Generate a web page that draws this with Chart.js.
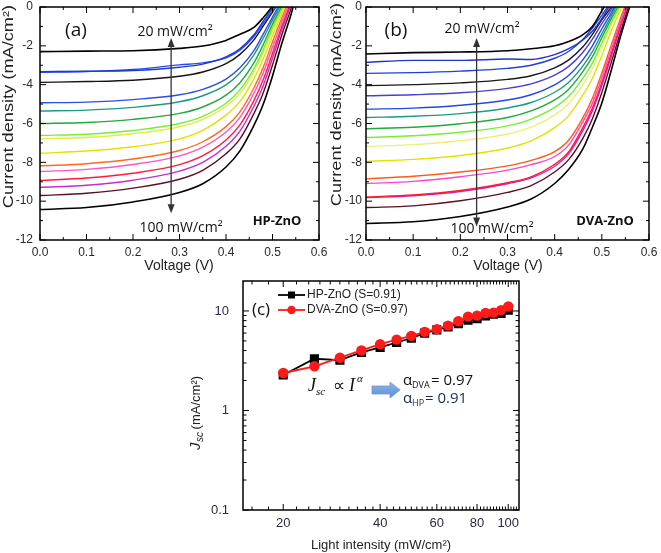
<!DOCTYPE html>
<html><head><meta charset="utf-8">
<script src="https://cdn.jsdelivr.net/npm/chart.js@4.4.0/dist/chart.umd.min.js"></script>
<style>
html,body{margin:0;padding:0;background:#fff;}
#wrap{position:relative;width:661px;height:553px;overflow:hidden;background:#fff;}
canvas{position:absolute;}
</style></head><body>
<div id="wrap">
<canvas id="ca" width="330" height="280" style="left:0;top:0;width:330px;height:280px"></canvas>
<canvas id="cb" width="331" height="280" style="left:330px;top:0;width:331px;height:280px"></canvas>
<canvas id="cc" width="350" height="283" style="left:180px;top:270px;width:350px;height:283px"></canvas>
</div>
<script>
// ---------- data ----------
const voltage = [0, 0.1, 0.2, 0.3, 0.35, 0.4, 0.43, 0.46, 0.48, 0.5, 0.52, 0.54, 0.56, 0.58];

const hpCurves = [
  [-2.30,-2.27,-2.25,-2.13,-2.01,-1.72,-1.40,-1.05,-0.55,0.05,0.8,1.6,2.4,3.2],
  [-3.33,-3.31,-3.27,-3.10,-2.94,-2.57,-2.15,-1.43,-0.73,-0.07,0.6,1.4,2.2,3.0],
  [-3.36,-3.32,-3.22,-2.98,-2.88,-2.62,-2.22,-1.52,-0.85,-0.20,0.5,1.3,2.1,2.9],
  [-3.88,-3.84,-3.77,-3.57,-3.35,-2.92,-2.44,-1.69,-0.98,-0.26,0.47,1.3,2.1,2.9],
  [-4.93,-4.90,-4.77,-4.52,-4.24,-3.71,-3.13,-2.25,-1.40,-0.52,0.32,1.2,2.2,3.1],
  [-5.36,-5.31,-5.17,-4.88,-4.57,-4.01,-3.40,-2.47,-1.61,-0.68,0.19,1.1,2.2,3.1],
  [-6.00,-5.95,-5.79,-5.48,-5.15,-4.54,-3.90,-2.88,-1.94,-0.88,0.05,1.1,2.2,3.1],
  [-6.62,-6.55,-6.36,-6.00,-5.63,-4.96,-4.27,-3.18,-2.20,-1.06,-0.10,1.0,2.2,3.1],
  [-6.79,-6.72,-6.53,-6.17,-5.79,-5.11,-4.45,-3.34,-2.36,-1.22,-0.20,0.9,2.1,3.0],
  [-7.53,-7.42,-7.20,-6.79,-6.35,-5.57,-4.86,-3.70,-2.68,-1.48,-0.37,0.83,2.2,3.1],
  [-8.18,-8.07,-7.83,-7.39,-6.94,-6.16,-5.40,-4.17,-3.11,-1.80,-0.57,0.65,2.1,3.0],
  [-8.47,-8.36,-8.11,-7.67,-7.22,-6.44,-5.68,-4.45,-3.39,-2.07,-0.77,0.47,2.0,3.0],
  [-8.93,-8.81,-8.56,-8.12,-7.66,-6.85,-6.07,-4.82,-3.75,-2.39,-1.00,0.29,1.9,2.9],
  [-9.29,-9.18,-8.92,-8.45,-8.00,-7.17,-6.39,-5.11,-4.05,-2.64,-1.17,0.15,1.8,2.9],
  [-9.71,-9.59,-9.33,-8.87,-8.41,-7.56,-6.79,-5.49,-4.43,-2.99,-1.44,-0.07,1.6,2.8],
  [-10.43,-10.33,-10.04,-9.55,-9.10,-8.24,-7.41,-6.10,-5.01,-3.55,-1.88,-0.37,1.36,2.7]
];
const hpColors = ['#000000','#1a3ad8','#2a4ae6','#151515','#2b4fe0','#1f9a80','#1faa3a','#77ee33',
  '#e4ee40','#e6e000','#ff6a20','#ff55c8','#ff1a40','#c030d0','#5a1020','#000000'];

const dvaCurves = [
  [-2.42,-2.35,-2.32,-2.25,-2.15,-2.00,-1.78,-1.42,-1.00,-0.20,0.6,1.4,2.2,3.0],
  [-2.85,-2.75,-2.75,-2.68,-2.70,-2.45,-2.15,-1.70,-1.25,-0.60,0.2,1.0,1.8,2.6],
  [-3.42,-3.38,-3.30,-3.16,-3.00,-2.64,-2.28,-1.66,-1.08,-0.43,0.3,1.1,1.9,2.7],
  [-4.05,-4.00,-3.91,-3.73,-3.54,-3.13,-2.72,-2.05,-1.41,-0.66,0.0,0.9,1.8,2.6],
  [-4.57,-4.52,-4.42,-4.19,-3.96,-3.51,-3.06,-2.33,-1.66,-0.86,-0.14,0.75,1.7,2.6],
  [-5.26,-5.21,-5.06,-4.79,-4.52,-4.01,-3.52,-2.71,-2.00,-1.12,-0.31,0.6,1.6,2.5],
  [-5.69,-5.63,-5.49,-5.20,-4.92,-4.39,-3.87,-3.03,-2.30,-1.37,-0.46,0.5,1.5,2.5],
  [-6.27,-6.19,-6.01,-5.69,-5.35,-4.78,-4.23,-3.32,-2.56,-1.58,-0.61,0.3,1.5,2.5],
  [-6.72,-6.63,-6.45,-6.12,-5.77,-5.17,-4.60,-3.66,-2.89,-1.85,-0.80,0.16,1.4,2.5],
  [-7.18,-7.09,-6.89,-6.54,-6.19,-5.56,-4.97,-3.98,-3.18,-2.10,-0.95,0.06,1.3,2.4],
  [-7.95,-7.85,-7.65,-7.26,-6.89,-6.21,-5.58,-4.53,-3.67,-2.51,-1.24,-0.11,1.1,2.3],
  [-8.85,-8.72,-8.50,-8.18,-7.90,-7.45,-6.85,-5.70,-4.70,-3.40,-1.95,-0.55,0.8,2.1],
  [-9.09,-8.98,-8.74,-8.40,-8.12,-7.70,-7.10,-5.90,-4.95,-3.65,-2.20,-0.75,0.65,2.0],
  [-9.78,-9.68,-9.45,-9.05,-8.75,-8.10,-7.45,-6.20,-5.20,-3.90,-2.40,-0.90,0.5,2.0],
  [-9.82,-9.72,-9.50,-9.10,-8.80,-8.20,-7.55,-6.35,-5.35,-4.05,-2.55,-1.00,0.4,1.9],
  [-10.33,-10.24,-9.98,-9.55,-9.20,-8.50,-7.85,-6.75,-5.75,-4.40,-2.85,-1.25,0.3,1.8],
  [-11.15,-11.06,-10.79,-10.30,-9.89,-9.09,-8.36,-7.30,-6.19,-4.94,-3.26,-1.48,0.09,1.6]
];
const dvaColors = ['#000000','#2233c8','#2240dd','#1a1a1a','#4a40d0','#2448e0','#1f9a80','#1faa3a',
  '#77ee33','#eef070','#e6e000','#ff5a1a','#ff44cc','#ff1a2a','#cc22cc','#5a1020','#000000'];

const intensity = [20,25,30,35,40,45,50,55,60,65,70,75,80,85,90,95,100];
const hpJsc  = [2.27,3.31,3.21,3.83,4.30,4.82,5.34,5.98,6.45,6.90,7.47,8.06,8.37,8.90,9.26,9.47,10.2];
const dvaJsc = [2.38,2.78,3.39,4.01,4.64,5.15,5.62,6.17,6.56,7.13,7.88,8.77,8.97,9.55,9.63,10.2,11.1];

const voltTicks = [0,0.1,0.2,0.3,0.4,0.5,0.6];
const voltMinor = [0.05,0.15,0.25,0.35,0.45,0.55];
const jTicks = [-12,-10,-8,-6,-4,-2,0];
const jMinor = [-11,-9,-7,-5,-3,-1];
const jscTicks = [0.1,1,10];
const jscMinor = [0.2,0.3,0.4,0.5,0.6,0.7,0.8,0.9,2,3,4,5,6,7,8,9];
const intensityTicks = [20,40,60,80,100];
const intensityMinor = [16,18,22,24,26,28,30,32,34,36,38,42,44,46,48,50,52,54,56,58,62,64,66,68,70,72,74,76,78,82,84,86,88,90,92,94,96,98,102,104,106];

// ---------- helpers ----------
const SANS = 'Liberation Sans';
const ANN = 'Open Sans';

function noPad(s) { s.paddingTop = 0; s.paddingBottom = 0; s.paddingLeft = 0; s.paddingRight = 0; }

function frameTicks(chart, xMaj, xMin, yMaj, yMin, maj, mn) {
  const {ctx, chartArea: a} = chart;
  const sx = chart.scales.x, sy = chart.scales.y;
  ctx.save();
  ctx.strokeStyle = '#000';
  ctx.lineWidth = 1;
  ctx.beginPath();
  const vx = (list, len) => list.forEach(v => {
    const p = sx.getPixelForValue(v);
    ctx.moveTo(p, a.bottom); ctx.lineTo(p, a.bottom - len);
    ctx.moveTo(p, a.top); ctx.lineTo(p, a.top + len);
  });
  const vy = (list, len) => list.forEach(v => {
    const p = sy.getPixelForValue(v);
    ctx.moveTo(a.left, p); ctx.lineTo(a.left + len, p);
    ctx.moveTo(a.right, p); ctx.lineTo(a.right - len, p);
  });
  vx(xMaj, maj); vx(xMin, mn); vy(yMaj, maj); vy(yMin, mn);
  ctx.stroke();
  ctx.lineWidth = 1.5;
  ctx.strokeRect(a.left, a.top, a.right - a.left, a.bottom - a.top);
  ctx.restore();
}

function yTitle(ctx, text, x, y, size, stretch) {
  ctx.save();
  ctx.translate(x, y);
  ctx.rotate(-Math.PI / 2);
  ctx.scale(stretch, 1);
  ctx.font = size + 'px "' + SANS + '"';
  ctx.fillStyle = '#222';
  ctx.textAlign = 'center';
  ctx.textBaseline = 'middle';
  ctx.fillText(text, 0, 0);
  ctx.restore();
}

function text(ctx, s, x, y, font, color, align) {
  ctx.save();
  ctx.font = font;
  ctx.fillStyle = color || '#111';
  ctx.textAlign = align || 'left';
  ctx.textBaseline = 'middle';
  ctx.fillText(s, x, y);
  ctx.restore();
}

function vArrow(ctx, x, y1, y2) {
  ctx.save();
  ctx.strokeStyle = '#333'; ctx.fillStyle = '#333'; ctx.lineWidth = 1.3;
  ctx.beginPath(); ctx.moveTo(x, y1 + 6); ctx.lineTo(x, y2 - 6); ctx.stroke();
  ctx.beginPath(); ctx.moveTo(x, y1); ctx.lineTo(x - 3.5, y1 + 9); ctx.lineTo(x + 3.5, y1 + 9); ctx.closePath(); ctx.fill();
  ctx.beginPath(); ctx.moveTo(x, y2); ctx.lineTo(x - 3.5, y2 - 9); ctx.lineTo(x + 3.5, y2 - 9); ctx.closePath(); ctx.fill();
  ctx.restore();
}

function jvDatasets(curves, colors) {
  return curves.map((c, i) => ({
    data: c.map((j, k) => ({x: voltage[k], y: j})),
    borderColor: colors[i],
    borderWidth: colors[i] === '#000000' ? 1.6 : 1.4,
    pointRadius: 0,
    fill: false,
    cubicInterpolationMode: 'monotone'
  }));
}

function jvOptions(yAxisWidth, padRight, tickPad) {
  return {
    responsive: false, animation: false, devicePixelRatio: 1,
    layout: {padding: {left: 0, right: padRight, top: 7, bottom: 0}},
    elements: {line: {capBezierPoints: false}},
    plugins: {legend: {display: false}, tooltip: {enabled: false}},
    scales: {
      x: {
        type: 'linear', min: 0, max: 0.6,
        afterBuildTicks: s => { s.ticks = voltTicks.map(v => ({value: v})); },
        afterFit: s => { s.height = 40; noPad(s); },
        grid: {display: false, drawTicks: false}, border: {display: false},
        ticks: {padding: 5, color: '#2a2a2a', autoSkip: false, maxRotation: 0,
          font: {family: SANS, size: 12}, callback: v => Number(v).toFixed(1)}
      },
      y: {
        type: 'linear', min: -12, max: 0,
        afterBuildTicks: s => { s.ticks = jTicks.map(v => ({value: v})); },
        afterFit: s => { s.width = yAxisWidth; noPad(s); },
        grid: {display: false, drawTicks: false}, border: {display: false},
        ticks: {padding: tickPad, color: '#2a2a2a', autoSkip: false,
          font: {family: SANS, size: 12}, callback: v => String(v)}
      }
    }
  };
}

// ---------- panel (a) ----------
new Chart(document.getElementById('ca'), {
  type: 'line',
  data: {datasets: jvDatasets(hpCurves, hpColors)},
  options: jvOptions(40, 11, 7),
  plugins: [{
    id: 'decoA',
    afterDraw(chart) {
      const ctx = chart.ctx;
      frameTicks(chart, voltTicks, voltMinor, jTicks, jMinor, 6, 3);
      yTitle(ctx, 'Current density (mA/cm²)', 9.5, 106.5, 14, 1.3);
      text(ctx, 'Voltage (V)', 179, 266, '14px "' + SANS + '"', '#222', 'center');
      text(ctx, '(a)', 76, 31, '19px "' + ANN + '"', '#111', 'center');
      text(ctx, '20 mW/cm²', 175, 32, '14px "' + ANN + '"', '#111', 'center');
      text(ctx, '100 mW/cm²', 181, 228, '14px "' + ANN + '"', '#111', 'center');
      text(ctx, 'HP-ZnO', 277, 221, 'bold 13px "' + ANN + '"', '#111', 'center');
      const sx = chart.scales.x, sy = chart.scales.y;
      vArrow(ctx, sx.getPixelForValue(0.282), sy.getPixelForValue(-1.6), sy.getPixelForValue(-10.62));
    }
  }]
});

// ---------- panel (b) ----------
new Chart(document.getElementById('cb'), {
  type: 'line',
  data: {datasets: jvDatasets(dvaCurves, dvaColors)},
  options: jvOptions(36, 12, 4),
  plugins: [{
    id: 'decoB',
    afterDraw(chart) {
      const ctx = chart.ctx;
      frameTicks(chart, voltTicks, voltMinor, jTicks, jMinor, 6, 3);
      yTitle(ctx, 'Current density (mA/cm²)', 7, 104.5, 14, 1.3);
      text(ctx, 'Voltage (V)', 178, 266, '14px "' + SANS + '"', '#222', 'center');
      text(ctx, '(b)', 66, 31, '19px "' + ANN + '"', '#111', 'center');
      text(ctx, '20 mW/cm²', 152, 29, '14px "' + ANN + '"', '#111', 'center');
      text(ctx, '100 mW/cm²', 162, 229, '14px "' + ANN + '"', '#111', 'center');
      text(ctx, 'DVA-ZnO', 275, 221, 'bold 13px "' + ANN + '"', '#111', 'center');
      const sx = chart.scales.x, sy = chart.scales.y;
      vArrow(ctx, sx.getPixelForValue(0.2345), sy.getPixelForValue(-1.6), sy.getPixelForValue(-11.3));
    }
  }]
});

// ---------- panel (c) ----------
new Chart(document.getElementById('cc'), {
  type: 'line',
  data: {datasets: [
    {label: 'HP-ZnO (S=0.91)', data: intensity.map((x, i) => ({x, y: hpJsc[i]})),
     borderColor: '#000', backgroundColor: '#000', pointStyle: 'rect', pointRadius: 5.2,
     borderWidth: 1.8, tension: 0, order: 2},
    {label: 'DVA-ZnO (S=0.97)', data: intensity.map((x, i) => ({x, y: dvaJsc[i]})),
     borderColor: '#ff1a1a', backgroundColor: '#ff1a1a', pointStyle: 'circle', pointRadius: 4.3,
     borderWidth: 1.8, tension: 0, order: 1}
  ]},
  options: {
    responsive: false, animation: false, devicePixelRatio: 1,
    layout: {padding: {left: 0, right: 11, top: 11, bottom: 0}},
    plugins: {legend: {display: false}, tooltip: {enabled: false}},
    scales: {
      x: {
        type: 'logarithmic', min: 15, max: 108,
        afterBuildTicks: s => { s.ticks = intensityTicks.map(v => ({value: v})); },
        afterFit: s => { s.height = 43; noPad(s); },
        grid: {display: false, drawTicks: false}, border: {display: false},
        ticks: {padding: 6, color: '#2b2b3a', autoSkip: false, maxRotation: 0,
          font: {family: SANS, size: 13}, callback: v => String(v)}
      },
      y: {
        type: 'logarithmic', min: 0.1, max: 20,
        afterBuildTicks: s => { s.ticks = jscTicks.map(v => ({value: v})); },
        afterFit: s => { s.width = 63; noPad(s); },
        grid: {display: false, drawTicks: false}, border: {display: false},
        ticks: {padding: 14, color: '#2b2b4a', autoSkip: false,
          font: {family: SANS, size: 13}, callback: v => String(v)}
      }
    }
  },
  plugins: [{
    id: 'decoC',
    afterDraw(chart) {
      const ctx = chart.ctx;
      frameTicks(chart, intensityTicks, intensityMinor, jscTicks, jscMinor, 6, 3.5);
      text(ctx, 'Light intensity (mW/cm²)', 201, 275, '13px "' + SANS + '"', '#222', 'center');
      // y title: J_sc (mA/cm²)
      ctx.save();
      ctx.translate(16, 146);
      ctx.rotate(-Math.PI / 2);
      ctx.fillStyle = '#222';
      ctx.textBaseline = 'middle';
      ctx.textAlign = 'left';
      const startX = -34;
      ctx.font = 'italic 15px "Liberation Sans"';
      ctx.fillText('J', startX, 0);
      ctx.font = 'italic 10px "Liberation Sans"';
      ctx.fillText('sc', startX + 8, 4);
      ctx.font = '13px "Liberation Sans"';
      ctx.fillText(' (mA/cm²)', startX + 17, 0);
      ctx.restore();
      // panel label
      text(ctx, '(c)', 81, 40, '17px "' + ANN + '"', '#111', 'center');
      // legend
      ctx.save();
      ctx.lineWidth = 1.8;
      ctx.strokeStyle = '#000';
      ctx.beginPath(); ctx.moveTo(98, 25); ctx.lineTo(125, 25); ctx.stroke();
      ctx.fillStyle = '#000'; ctx.fillRect(108, 21.5, 7, 7);
      ctx.strokeStyle = '#ff1a1a';
      ctx.beginPath(); ctx.moveTo(98, 40); ctx.lineTo(125, 40); ctx.stroke();
      ctx.fillStyle = '#ff1a1a'; ctx.beginPath(); ctx.arc(111.5, 40, 4.2, 0, Math.PI * 2); ctx.fill();
      ctx.restore();
      text(ctx, 'HP-ZnO (S=0.91)', 127, 25, '12px "' + SANS + '"', '#222');
      text(ctx, 'DVA-ZnO (S=0.97)', 127, 40, '12px "' + SANS + '"', '#222');
      // formula  J_sc ∝ I^α
      ctx.save();
      ctx.fillStyle = '#111';
      ctx.textBaseline = 'alphabetic';
      ctx.font = 'italic 18px "Liberation Serif"';
      ctx.fillText('J', 128, 121);
      ctx.font = 'italic 11px "Liberation Serif"';
      ctx.fillText('sc', 136, 125);
      ctx.font = '17px "Liberation Serif"';
      ctx.fillText('∝', 153, 121);
      ctx.font = 'italic 18px "Liberation Serif"';
      ctx.fillText('I', 169, 121);
      ctx.font = 'italic 11px "Liberation Serif"';
      ctx.fillText('α', 177, 112);
      ctx.restore();
      // block arrow
      ctx.save();
      const g = ctx.createLinearGradient(0, 112, 0, 128);
      g.addColorStop(0, '#8fb6e6'); g.addColorStop(1, '#5b8fd4');
      ctx.fillStyle = g;
      ctx.strokeStyle = '#6f9bd6';
      ctx.lineWidth = 0.8;
      ctx.beginPath();
      ctx.moveTo(192, 116); ctx.lineTo(210, 116); ctx.lineTo(210, 112);
      ctx.lineTo(220, 120); ctx.lineTo(210, 128); ctx.lineTo(210, 124);
      ctx.lineTo(192, 124); ctx.closePath();
      ctx.fill(); ctx.stroke();
      ctx.restore();
      // alpha values
      ctx.save();
      ctx.textBaseline = 'alphabetic';
      ctx.fillStyle = '#111';
      ctx.font = '15px "' + ANN + '"';
      ctx.fillText('α', 223, 115);
      ctx.font = '9px "' + ANN + '"';
      ctx.fillText('DVA', 232, 118);
      ctx.font = '15px "' + ANN + '"';
      ctx.fillText('= 0.97', 251, 115);
      ctx.fillStyle = '#1c2850';
      ctx.fillText('α', 223, 133);
      ctx.font = '9px "' + ANN + '"';
      ctx.fillText('HP', 232, 136);
      ctx.font = '15px "' + ANN + '"';
      ctx.fillText('= 0.91', 245, 133);
      ctx.restore();
    }
  }]
});
</script>
</body></html>
